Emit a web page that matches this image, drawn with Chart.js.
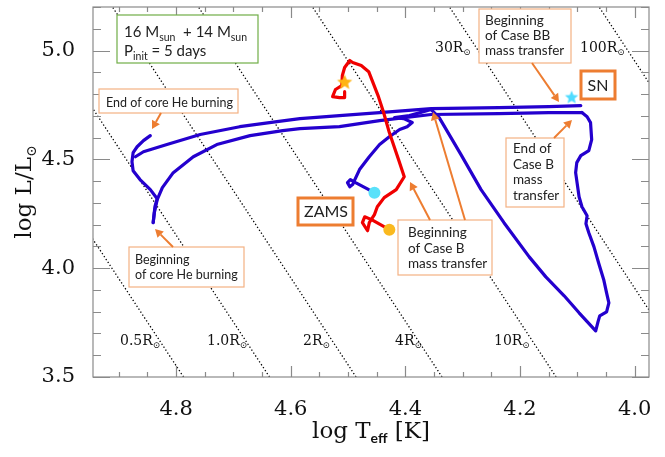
<!DOCTYPE html>
<html>
<head>
<meta charset="utf-8">
<script src="https://cdn.jsdelivr.net/npm/chart.js@4.4.1/dist/chart.umd.min.js"></script>
<style>
  html, body { margin: 0; padding: 0; background: #fff; }
  canvas { display: block; }
</style>
</head>
<body>
<canvas id="hrd" width="665" height="457"></canvas>
<script>
// --- data: [log Teff, log L] ---
const xTicks = [4.8, 4.6, 4.4, 4.2, 4.0];
const yTicks = [3.5, 4.0, 4.5, 5.0];

// primary (blue): main sequence + Hertzsprung gap
const primaryMS = [
    [4.454, 4.347], [4.487, 4.393], [4.496, 4.407], [4.501, 4.393], [4.497, 4.374],
    [4.492, 4.384], [4.489, 4.402], [4.480, 4.453], [4.463, 4.512], [4.445, 4.568],
    [4.428, 4.604], [4.410, 4.637], [4.397, 4.650], [4.388, 4.669], [4.403, 4.687],
    [4.419, 4.692], [4.393, 4.701], [4.355, 4.729]
];
// primary: Case B mass transfer
const primaryCaseB = [
    [4.355, 4.729], [4.341, 4.692], [4.303, 4.522], [4.268, 4.361], [4.228, 4.209],
    [4.184, 4.052], [4.155, 3.960], [4.123, 3.873], [4.097, 3.795], [4.068, 3.712],
    [4.064, 3.753], [4.061, 3.781], [4.049, 3.799], [4.045, 3.841], [4.049, 3.887],
    [4.054, 3.947], [4.063, 4.025], [4.071, 4.098], [4.080, 4.163], [4.085, 4.204],
    [4.083, 4.241], [4.092, 4.282], [4.097, 4.328], [4.103, 4.439], [4.101, 4.485],
    [4.094, 4.517], [4.080, 4.540], [4.075, 4.591], [4.077, 4.669], [4.083, 4.696],
    [4.092, 4.715]
];
// primary: after Case B, towards the helium star
const primaryToHe = [
    [4.092, 4.715], [4.150, 4.715], [4.237, 4.710], [4.355, 4.706], [4.445, 4.678],
    [4.515, 4.650], [4.584, 4.641], [4.614, 4.632], [4.671, 4.609], [4.729, 4.568],
    [4.770, 4.512], [4.805, 4.439], [4.824, 4.370], [4.833, 4.315], [4.838, 4.255],
    [4.840, 4.209]
];
// primary: core helium burning
const primaryHeBurn = [
    [4.840, 4.209], [4.837, 4.282], [4.833, 4.319], [4.845, 4.361], [4.863, 4.407],
    [4.875, 4.448], [4.877, 4.489], [4.875, 4.531], [4.868, 4.558], [4.857, 4.586],
    [4.845, 4.609]
];
// primary: expansion until supernova
const primaryToSN = [
    [4.871, 4.512], [4.857, 4.535], [4.816, 4.568], [4.758, 4.614], [4.689, 4.650],
    [4.624, 4.673], [4.584, 4.687], [4.515, 4.701], [4.445, 4.715], [4.355, 4.733],
    [4.237, 4.738], [4.150, 4.742], [4.094, 4.747]
];
// secondary (red)
const secondary = [
    [4.428, 4.177], [4.459, 4.223], [4.471, 4.236], [4.475, 4.209], [4.466, 4.172],
    [4.463, 4.209], [4.454, 4.246], [4.449, 4.282], [4.437, 4.324], [4.416, 4.361],
    [4.402, 4.420], [4.412, 4.499], [4.428, 4.623], [4.438, 4.715], [4.447, 4.788],
    [4.464, 4.903], [4.477, 4.931], [4.492, 4.945], [4.497, 4.954], [4.506, 4.922],
    [4.510, 4.885], [4.511, 4.839], [4.522, 4.821], [4.527, 4.788], [4.515, 4.784],
    [4.506, 4.784], [4.506, 4.811]
];
const primaryZams = [4.454, 4.347];
const secondaryZams = [4.428, 4.177];
const primarySN = [4.110, 4.784];
const secondaryEnd = [4.506, 4.853];

// lines of constant radius (end points)
const radiusLines = [
    [[4.787, 3.5], [5.212, 5.2]],
    [[4.637, 3.5], [5.062, 5.2]],
    [[4.486, 3.5], [4.911, 5.2]],
    [[4.336, 3.5], [4.761, 5.2]],
    [[4.137, 3.5], [4.562, 5.2]],
    [[3.898, 3.5], [4.323, 5.2]],
    [[3.637, 3.5], [4.062, 5.2]]
];

const BLUE = 'rgb(36,0,206)';
const RED = 'rgb(240,0,0)';
const ORANGE = '#ed7d31';
const LIGHT_ORANGE = '#f4b183';
const SERIF = '"DejaVu Serif", serif';
const SANS = 'Lato, "Open Sans", sans-serif';

const pts = arr => arr.map(p => ({ x: p[0], y: p[1] }));

function makeStar(r, fill) {
    const c = document.createElement('canvas');
    c.width = c.height = 2 * r + 2;
    const g = c.getContext('2d');
    g.beginPath();
    for (let i = 0; i < 10; i++) {
        const a = -Math.PI / 2 + i * Math.PI / 5;
        const rr = i % 2 ? r * 0.45 : r;
        g.lineTo(r + 1 + rr * Math.cos(a), r + 1 + rr * Math.sin(a));
    }
    g.closePath();
    g.fillStyle = fill;
    g.fill();
    return c;
}

function track(data, color, order) {
    return {
        data: pts(data), showLine: true, borderColor: color, borderWidth: 3.2,
        pointRadius: 0, tension: 0, order: order, borderJoinStyle: 'round', borderCapStyle: 'round'
    };
}

const datasets = [];
radiusLines.forEach(l => datasets.push({
    data: pts(l), showLine: true, borderColor: '#000', borderWidth: 1.3,
    borderDash: [1.3, 2.2], pointRadius: 0, order: 5
}));
[primaryMS, primaryCaseB, primaryToHe, primaryHeBurn, primaryToSN].forEach(seg =>
    datasets.push(track(seg, BLUE, 3)));
datasets.push(track(secondary, RED, 2));
datasets.push({ data: pts([primaryZams]), pointRadius: 6, pointBackgroundColor: 'rgb(90,225,250)', pointBorderWidth: 0, order: 0 });
datasets.push({ data: pts([secondaryZams]), pointRadius: 6, pointBackgroundColor: 'rgb(250,185,30)', pointBorderWidth: 0, order: 0 });
datasets.push({ data: pts([primarySN]), pointStyle: makeStar(7, 'rgb(80,220,255)'), order: 0 });
datasets.push({ data: pts([secondaryEnd]), pointStyle: makeStar(8, 'rgb(255,180,20)'), order: 0 });

// --- text helpers ---
function drawParts(ctx, parts, x, y, align) {
    let w = 0;
    parts.forEach(p => { ctx.font = p.font; w += ctx.measureText(p.t).width; });
    let cx = align === 'center' ? x - w / 2 : x;
    ctx.textAlign = 'left';
    parts.forEach(p => {
        ctx.font = p.font;
        ctx.fillText(p.t, cx, y + (p.dy || 0));
        cx += ctx.measureText(p.t).width;
    });
}

const boxes = [
    { x: 117, y: 15, w: 141, h: 48, stroke: '#70ad47', lw: 1.2 },
    { x: 99, y: 89, w: 139, h: 24, stroke: LIGHT_ORANGE, lw: 1.2 },
    { x: 129, y: 247, w: 115, h: 40, stroke: LIGHT_ORANGE, lw: 1.2 },
    { x: 298, y: 198, w: 55, h: 27, stroke: ORANGE, lw: 3 },
    { x: 398, y: 220, w: 94, h: 55, stroke: LIGHT_ORANGE, lw: 1.2 },
    { x: 479, y: 9, w: 92, h: 54, stroke: LIGHT_ORANGE, lw: 1.2 },
    { x: 581, y: 71, w: 34, h: 28, stroke: ORANGE, lw: 3 },
    { x: 506, y: 138, w: 58, h: 69, stroke: LIGHT_ORANGE, lw: 1.2 }
];
const labels = [
    { lines: ['End of core He burning'], x: 106, y: 107, size: 12.5, lh: 15 },
    { lines: ['Beginning', 'of core He burning'], x: 135, y: 264, size: 12.5, lh: 15 },
    { lines: ['Beginning', 'of Case B', 'mass transfer'], x: 408, y: 237, size: 13.5, lh: 15.5 },
    { lines: ['Beginning', 'of Case BB', 'mass transfer'], x: 485, y: 25, size: 13.5, lh: 15 },
    { lines: ['End of', 'Case B', 'mass', 'transfer'], x: 513, y: 153, size: 13.5, lh: 15.7 }
];
const arrows = [
    [161, 113, 152, 129], [173, 247, 155, 229], [430, 220, 410, 182],
    [465, 220, 433, 112], [532, 63, 559, 102], [554, 138, 572, 120]
];
const radiusText = [
    ['0.5R', 120, 345], ['1.0R', 207, 345], ['2R', 303, 345], ['4R', 395, 345],
    ['10R', 494, 345], ['30R', 435, 52], ['100R', 580, 52]
];

function arrow(ctx, x1, y1, x2, y2) {
    const a = Math.atan2(y2 - y1, x2 - x1), hl = 8, hw = 4.5;
    const bx = x2 - hl * Math.cos(a), by = y2 - hl * Math.sin(a);
    ctx.beginPath();
    ctx.moveTo(x1, y1);
    ctx.lineTo(bx, by);
    ctx.stroke();
    ctx.beginPath();
    ctx.moveTo(x2, y2);
    ctx.lineTo(bx + hw * Math.sin(a), by - hw * Math.cos(a));
    ctx.lineTo(bx - hw * Math.sin(a), by + hw * Math.cos(a));
    ctx.closePath();
    ctx.fill();
}

const decor = {
    id: 'decor',
    afterDatasetsDraw(chart) {
        const { ctx, chartArea: a, scales: { x, y } } = chart;
        ctx.save();
        // frame and inward ticks on all four sides
        ctx.strokeStyle = '#8a8a8a';
        ctx.lineWidth = 1.2;
        ctx.strokeRect(a.left, a.top, a.right - a.left, a.bottom - a.top);
        ctx.beginPath();
        for (let k = 0; k <= 18; k++) {
            const px = Math.round(x.getPixelForValue(4.0 + k * 0.05)) + 0.5;
            const len = k % 4 === 0 ? 11 : 5;
            ctx.moveTo(px, a.bottom); ctx.lineTo(px, a.bottom - len);
            ctx.moveTo(px, a.top); ctx.lineTo(px, a.top + len);
        }
        for (let k = 0; k <= 17; k++) {
            const py = Math.round(y.getPixelForValue(3.5 + k * 0.1)) + 0.5;
            const len = k % 5 === 0 ? 17 : 8;
            ctx.moveTo(a.left, py); ctx.lineTo(a.left + len, py);
            ctx.moveTo(a.right, py); ctx.lineTo(a.right - len, py);
        }
        ctx.stroke();

        // radius labels
        ctx.fillStyle = '#111';
        ctx.textBaseline = 'alphabetic';
        radiusText.forEach(([t, tx, ty]) => drawParts(ctx, [
            { t: t, font: '14px ' + SERIF },
            { t: '\u2299', font: '9px ' + SERIF, dy: 3 }
        ], tx, ty, 'left'));

        // annotation boxes
        boxes.forEach(b => {
            ctx.fillStyle = '#fff';
            ctx.fillRect(b.x, b.y, b.w, b.h);
            ctx.strokeStyle = b.stroke;
            ctx.lineWidth = b.lw;
            ctx.strokeRect(b.x, b.y, b.w, b.h);
        });
        ctx.fillStyle = '#222';
        labels.forEach(l => {
            ctx.font = l.size + 'px ' + SANS;
            ctx.textAlign = 'left';
            l.lines.forEach((s, i) => ctx.fillText(s, l.x, l.y + i * l.lh));
        });
        ctx.font = '16px ' + SANS;
        ctx.textAlign = 'center';
        ctx.fillText('ZAMS', 326, 217);
        ctx.fillText('SN', 598, 91);
        const f15 = '15px ' + SANS, f10 = '10.5px ' + SANS;
        drawParts(ctx, [
            { t: '16 M', font: f15 }, { t: 'sun', font: f10, dy: 4 },
            { t: '  + 14 M', font: f15 }, { t: 'sun', font: f10, dy: 4 }
        ], 124, 37, 'left');
        drawParts(ctx, [
            { t: 'P', font: f15 }, { t: 'init', font: f10, dy: 4 }, { t: ' = 5 days', font: f15 }
        ], 124, 56, 'left');

        // arrows
        ctx.strokeStyle = ORANGE;
        ctx.fillStyle = ORANGE;
        ctx.lineWidth = 2;
        arrows.forEach(p => arrow(ctx, ...p));

        // axis titles
        ctx.fillStyle = '#111';
        drawParts(ctx, [
            { t: 'log T', font: '23px ' + SERIF },
            { t: 'eff', font: 'bold 14px ' + SANS, dy: 5 },
            { t: ' [K]', font: '23px ' + SERIF }
        ], (a.left + a.right) / 2, 438, 'center');
        ctx.translate(31, (a.top + a.bottom) / 2);
        ctx.rotate(-Math.PI / 2);
        drawParts(ctx, [
            { t: 'log L/L', font: '23px ' + SERIF },
            { t: '\u2299', font: '14px ' + SERIF, dy: 5 }
        ], 0, 0, 'center');
        ctx.restore();
    }
};

new Chart(document.getElementById('hrd'), {
    type: 'scatter',
    data: { datasets: datasets },
    plugins: [decor],
    options: {
        responsive: false,
        animation: false,
        events: [],
        layout: { padding: { left: 0, right: 16, top: 7, bottom: 0 } },
        plugins: { legend: { display: false }, tooltip: { enabled: false } },
        scales: {
            x: {
                type: 'linear', reverse: true, min: 3.975, max: 4.945,
                grid: { display: false }, border: { display: false },
                afterBuildTicks: s => { s.ticks = xTicks.map(v => ({ value: v })); },
                afterFit: s => { s.height = 80; s.paddingLeft = 0; s.paddingRight = 0; },
                ticks: {
                    autoSkip: false, maxRotation: 0, padding: 12, color: '#111',
                    font: { family: SERIF, size: 21 },
                    callback: v => v.toFixed(1)
                }
            },
            y: {
                type: 'linear', min: 3.5, max: 5.2,
                grid: { display: false }, border: { display: false },
                afterBuildTicks: s => { s.ticks = yTicks.map(v => ({ value: v })); },
                afterFit: s => { s.width = 93; s.paddingTop = 0; s.paddingBottom = 0; },
                ticks: {
                    autoSkip: false, padding: 10, color: '#111',
                    font: { family: SERIF, size: 21 },
                    callback: v => v.toFixed(1)
                }
            }
        }
    }
});
</script>
</body>
</html>
